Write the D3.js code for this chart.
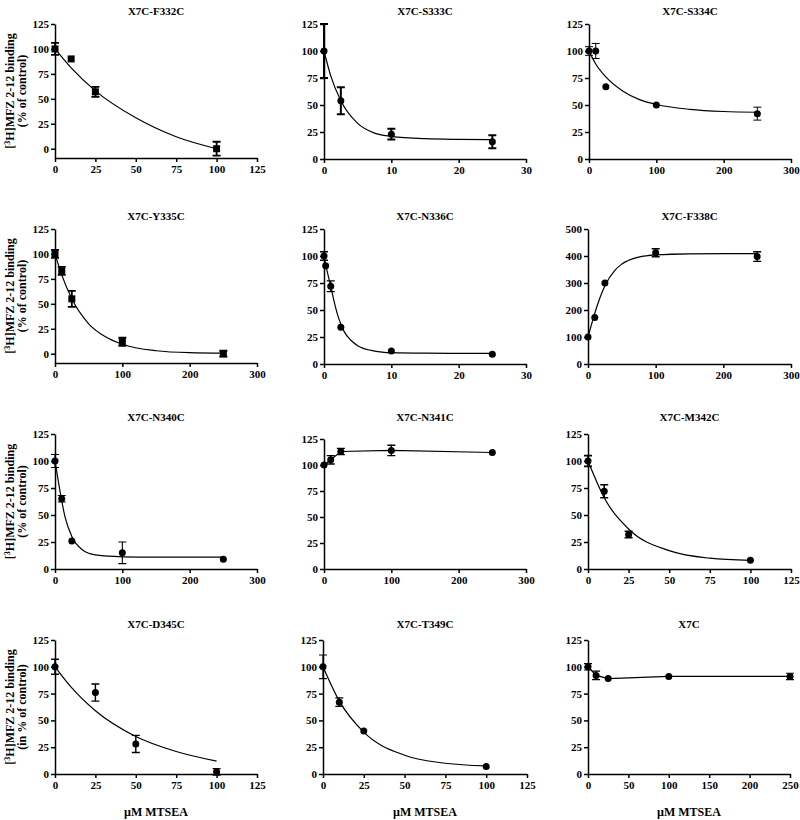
<!DOCTYPE html>
<html><head><meta charset="utf-8">
<script src="https://cdn.jsdelivr.net/npm/d3@7"></script>
<style>body{margin:0;background:#fff}</style>
</head><body><svg id="c" width="800" height="820"></svg>
<script>
// ---------- DATA ----------
const titles = ["X7C-F332C","X7C-S333C","X7C-S334C","X7C-Y335C","X7C-N336C","X7C-F338C",
                "X7C-N340C","X7C-N341C","X7C-M342C","X7C-D345C","X7C-T349C","X7C"];
const xTicks125 = [0,25,50,75,100,125];
const xTicks30  = [0,10,20,30];
const xTicks300 = [0,100,200,300];
const xTicks250 = [0,50,100,150,200,250];
const yTicks125 = [0,25,50,75,100,125];
const yTicks500 = [0,100,200,300,400,500];
const yLabel1 = "MFZ 2-12 binding";
const yLabel2 = "(% of control)";
const yLabel2b = "(in % of control)";
const xLabel = "µM MTSEA";

// F332C
const f332c_x = [0,10,25,100], f332c_y = [100,90,57,0], f332c_e = [6,0,5,7];
const f332c_cx = [0,10,25,50,75,100], f332c_cy = [100,81,58,31,12,0];
// S333C
const s333c_x = [0,2.5,10,25], s333c_y = [100,54,23,16], s333c_e = [25,12.5,5,6];
const s333c_cx = [0,1,2.5,5,7.5,10,15,20,25], s333c_cy = [100,77,54,33,24,21,18.8,18.2,18];
// S334C
const s334c_x = [0,10,25,100,250], s334c_y = [100,100,67,50,42], s334c_e = [4,7,0,0,6];
const s334c_cx = [0,10,25,50,75,100,150,200,250], s334c_cy = [100,88,76,63,55,50.5,46,44,43.3];
// Y335C
const y335c_x = [0,10,25,100,250], y335c_y = [100,83,55,12,0], y335c_e = [4,4,8,4,3];
const y335c_cx = [0,10,25,50,75,100,150,200,250], y335c_cy = [100,79,55,30,17,9.5,3,1,0.5];
// N336C
const n336c_x = [0,0.25,1,2.5,10,25], n336c_y = [100,91,72,34,12,9], n336c_e = [4,0,5,0,0,0];
const n336c_cx = [0,0.25,0.5,1,1.5,2,2.5,3,4,5,7.5,10,15,25], n336c_cy = [100,92,85,72,58,46,37,30,22,17,12,10.5,10,9.8];
// F338C
const f338c_x = [0,10,25,100,250], f338c_y = [100,172,300,412,398], f338c_e = [0,0,0,15,18];
const f338c_cx = [0,5,10,25,40,50,75,100,150,250], f338c_cy = [100,145,188,290,348,370,396,404,408,409];
// N340C
const n340c_x = [0,10,25,100,250], n340c_y = [100,65,26,15,9], n340c_e = [6,3,0,10,0];
const n340c_cx = [0,5,10,15,25,40,60,100,150,250], n340c_cy = [100,81,63,48,30,18,13,11.3,11,11];
// N341C
const n341c_x = [0,10,25,100,250], n341c_y = [100,105,113,114,112], n341c_e = [0,4,3,5,0];
// M342C
const m342c_x = [0,10,25,100], m342c_y = [100,72,32,8], m342c_e = [5,6,3,0];
const m342c_cx = [0,10,25,50,75,100], m342c_cy = [100,66,37,17,10,8];
// D345C
const d345c_x = [0,25,50,100], d345c_y = [100,76,28,2], d345c_e = [7,8,8,3];
const d345c_cx = [0,10,25,50,75,100], d345c_cy = [100,81,59,35,21,12];
// T349C
const t349c_x = [0,10,25,100], t349c_y = [100,67,40,7], t349c_e = [11,4,0,0];
const t349c_cx = [0,10,25,50,75,100], t349c_cy = [100,68,39,17.5,10,7.5];
// X7C
const x7c_x = [0,10,25,100,250], x7c_y = [100,92,89,91,91], x7c_e = [3,4,0,0,3];

// ---------- LAYOUT ----------
const layout = [
 {l:55,r:257,t:24,b:158,ymin:-9.3,ty:15,ew:1.8},
 {l:324,r:526,t:24,b:159,ymin:0,ty:15,ew:2},
 {l:589,r:791,t:24,b:159,ymin:0,ty:15,ew:1},
 {l:55,r:257,t:229,b:363,ymin:-9.3,ty:220,ew:1.8},
 {l:324,r:526,t:229,b:364,ymin:0,ty:220,ew:1.4},
 {l:588,r:791,t:229,b:364,ymin:0,ty:220,ew:1.4},
 {l:55,r:257,t:434,b:569,ymin:0,ty:421,ew:1.1},
 {l:324,r:526,t:439,b:569,ymin:0,ty:421,ew:1.4},
 {l:588,r:791,t:434,b:569,ymin:0,ty:421,ew:1.6},
 {l:55,r:257,t:640,b:774,ymin:0,ty:628,ew:1.4},
 {l:323,r:527,t:640,b:774,ymin:0,ty:628,ew:1.2},
 {l:588,r:790,t:640,b:774,ymin:0,ty:628,ew:1.2}
];

const zip = (a,b) => a.map((v,i)=>[v,b[i]]);
const pts = (x,y,e) => x.map((v,i)=>({x:v,y:y[i],e:e[i]}));

const panels = [
 {xt:xTicks125, yt:yTicks125, p:pts(f332c_x,f332c_y,f332c_e), c:zip(f332c_cx,f332c_cy), m:"sq"},
 {xt:xTicks30,  yt:yTicks125, p:pts(s333c_x,s333c_y,s333c_e), c:zip(s333c_cx,s333c_cy), m:"ci"},
 {xt:xTicks300, yt:yTicks125, p:pts(s334c_x,s334c_y,s334c_e), c:zip(s334c_cx,s334c_cy), m:"ci"},
 {xt:xTicks300, yt:yTicks125, p:pts(y335c_x,y335c_y,y335c_e), c:zip(y335c_cx,y335c_cy), m:"sq"},
 {xt:xTicks30,  yt:yTicks125, p:pts(n336c_x,n336c_y,n336c_e), c:zip(n336c_cx,n336c_cy), m:"ci"},
 {xt:xTicks300, yt:yTicks500, p:pts(f338c_x,f338c_y,f338c_e), c:zip(f338c_cx,f338c_cy), m:"ci"},
 {xt:xTicks300, yt:yTicks125, p:pts(n340c_x,n340c_y,n340c_e), c:zip(n340c_cx,n340c_cy), m:"ci"},
 {xt:xTicks300, yt:yTicks125, p:pts(n341c_x,n341c_y,n341c_e), c:zip(n341c_x,n341c_y), m:"ci", lin:true},
 {xt:xTicks125, yt:yTicks125, p:pts(m342c_x,m342c_y,m342c_e), c:zip(m342c_cx,m342c_cy), m:"ci"},
 {xt:xTicks125, yt:yTicks125, p:pts(d345c_x,d345c_y,d345c_e), c:zip(d345c_cx,d345c_cy), m:"ci"},
 {xt:xTicks125, yt:yTicks125, p:pts(t349c_x,t349c_y,t349c_e), c:zip(t349c_cx,t349c_cy), m:"ci"},
 {xt:xTicks250, yt:yTicks125, p:pts(x7c_x,x7c_y,x7c_e), c:zip(x7c_x,x7c_y), m:"ci", lin:true}
];

const svg = d3.select("#c");
svg.append("rect").attr("width",800).attr("height",820).attr("fill","#fff");
const FONT = "'Liberation Serif','Times New Roman',serif";

panels.forEach((P,i)=>{
  const L = layout[i];
  const x = d3.scaleLinear().domain([P.xt[0], P.xt[P.xt.length-1]]).range([L.l, L.r]);
  const y = d3.scaleLinear().domain([L.ymin, P.yt[P.yt.length-1]]).range([L.b, L.t]);
  const g = svg.append("g");

  // title
  g.append("text").attr("x",(L.l+L.r)/2).attr("y",L.ty).attr("text-anchor","middle")
    .attr("font-family",FONT).attr("font-weight","bold").attr("font-size",11).text(titles[i]);

  // axes
  const ya = g.append("g").attr("transform",`translate(${L.l},0)`)
    .call(d3.axisLeft(y).tickValues(P.yt).tickSize(4).tickSizeOuter(0).tickPadding(2));
  const xa = g.append("g").attr("transform",`translate(0,${L.b})`)
    .call(d3.axisBottom(x).tickValues(P.xt).tickSize(4).tickSizeOuter(0).tickPadding(3));
  [ya,xa].forEach(a=>{
    a.select(".domain").attr("stroke","#000").attr("stroke-width",1.5);
    a.selectAll(".tick line").attr("stroke","#000").attr("stroke-width",1.5);
    a.selectAll(".tick text").attr("font-family",FONT).attr("font-weight","bold")
      .attr("font-size",11).attr("fill","#000");
  });

  // curve
  const line = d3.line().x(d=>x(d[0])).y(d=>y(d[1]))
    .curve(P.lin ? d3.curveLinear : d3.curveMonotoneX);
  g.append("path").attr("d",line(P.c)).attr("fill","none").attr("stroke","#000").attr("stroke-width",1.2);

  // error bars
  const eb = P.p.filter(d=>d.e>0);
  g.selectAll(".eb").data(eb).enter().append("path")
    .attr("d",d=>{
      const cx=x(d.x), y1=y(d.y+d.e), y2=y(d.y-d.e), w=4;
      return `M${cx},${y1}V${y2}M${cx-w},${y1}H${cx+w}M${cx-w},${y2}H${cx+w}`;
    })
    .attr("fill","none").attr("stroke","#000").attr("stroke-width",L.ew);

  // markers
  if (P.m==="sq") {
    g.selectAll(".mk").data(P.p).enter().append("rect")
      .attr("x",d=>x(d.x)-3.5).attr("y",d=>y(d.y)-3.5).attr("width",7).attr("height",7).attr("fill","#000");
  } else {
    g.selectAll(".mk").data(P.p).enter().append("circle")
      .attr("cx",d=>x(d.x)).attr("cy",d=>y(d.y)).attr("r",3.5).attr("fill","#000");
  }

  // y label (first column)
  if (i%3===0) {
    const cy = (L.t+L.b)/2;
    const t1 = g.append("text").attr("transform",`translate(14,${cy}) rotate(-90)`)
      .attr("text-anchor","middle").attr("font-family",FONT).attr("font-weight","bold").attr("font-size",12);
    t1.append("tspan").text("[");
    t1.append("tspan").attr("baseline-shift","super").attr("font-size",8).text("3");
    t1.append("tspan").text("H]" + yLabel1);
    g.append("text").attr("transform",`translate(26,${cy}) rotate(-90)`)
      .attr("text-anchor","middle").attr("font-family",FONT).attr("font-weight","bold").attr("font-size",12)
      .text(i===9 ? yLabel2b : yLabel2);
  }
  // x label (last row)
  if (i>=9) {
    g.append("text").attr("x",(L.l+L.r)/2).attr("y",816).attr("text-anchor","middle")
      .attr("font-family",FONT).attr("font-weight","bold").attr("font-size",12).text(xLabel);
  }
});
</script></body></html>
